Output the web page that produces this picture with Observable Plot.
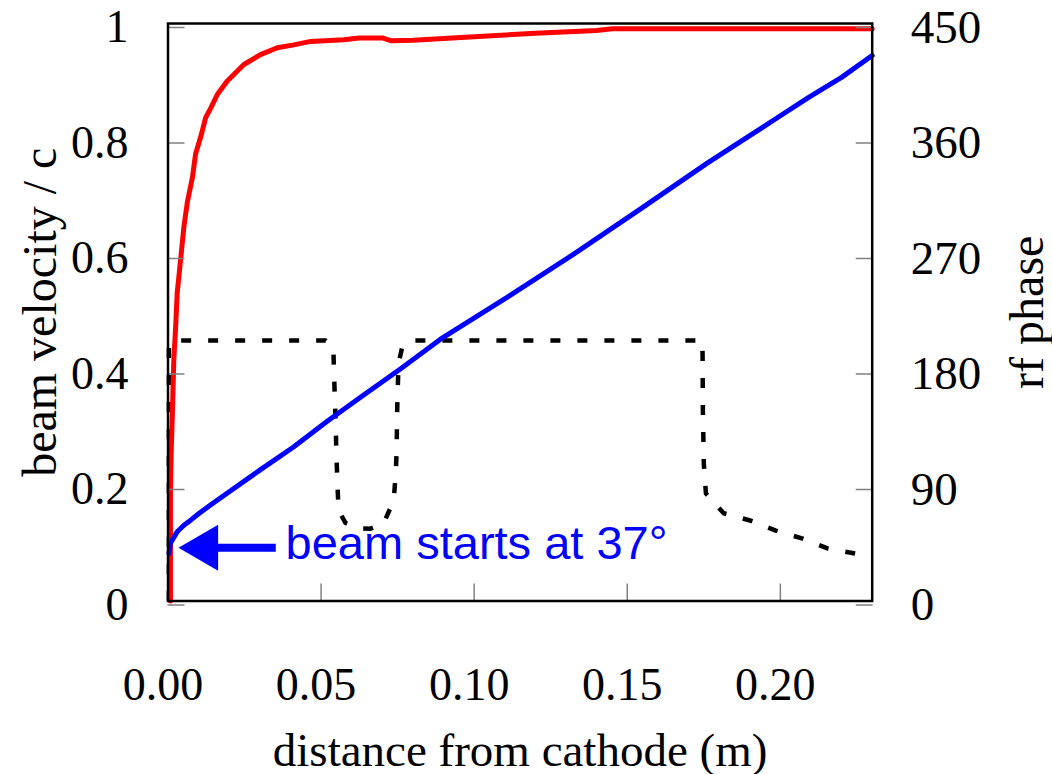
<!DOCTYPE html>
<html><head><meta charset="utf-8">
<script src="https://cdn.jsdelivr.net/npm/d3@7"></script>
<script src="https://cdn.jsdelivr.net/npm/@observablehq/plot@0.6"></script>
<style>body{margin:0;background:#fff}</style>
</head><body><div id="chart"></div>
<script>
// beam velocity / c (left axis)
const velX = [0.0008, 0.0008, 0.0010, 0.0014, 0.0019, 0.0025, 0.0030, 0.0041, 0.0052, 0.0063, 0.0080, 0.0090, 0.0106, 0.0123, 0.0140, 0.0161, 0.0193, 0.0248, 0.0302, 0.0357, 0.0411, 0.0466, 0.0574, 0.0623, 0.0700, 0.0730, 0.0800, 0.0900, 0.1000, 0.1200, 0.1400, 0.1450, 0.1700, 0.2000, 0.2300];
const velY = [0, 0.186, 0.25, 0.32, 0.417, 0.475, 0.533, 0.59, 0.648, 0.69, 0.734, 0.774, 0.802, 0.837, 0.854, 0.877, 0.9, 0.929, 0.946, 0.958, 0.963, 0.969, 0.972, 0.975, 0.975, 0.970, 0.971, 0.974, 0.977, 0.983, 0.988, 0.991, 0.991, 0.991, 0.991];
// rf phase in degrees (right axis)
const phaseX = [0.0003, 0.0008, 0.003, 0.0052, 0.0074, 0.010, 0.014, 0.0193, 0.030, 0.041, 0.052, 0.063, 0.076, 0.089, 0.111, 0.133, 0.154, 0.176, 0.189, 0.198, 0.209, 0.220, 0.230];
const phaseDeg = [37, 45, 54, 59, 63, 68, 75, 84, 102, 120, 140, 159, 181, 204, 237, 271, 305, 341, 361, 375, 392, 408, 425];
// dashed curve (left-axis units)
const fieldX = [0.0003, 0.0003, 0.0015, 0.0515, 0.0540, 0.0542, 0.0545, 0.0548, 0.0550, 0.0553, 0.0557, 0.0580, 0.0620, 0.0660, 0.0704, 0.0737, 0.0744, 0.0747, 0.0748, 0.0750, 0.0753, 0.0765, 0.0792, 0.1744, 0.1746, 0.1747, 0.1750, 0.1757, 0.1815, 0.1904, 0.1985, 0.2073, 0.2154, 0.2247, 0.2300];
const fieldY = [0, 0.44, 0.451, 0.451, 0.439, 0.40, 0.35, 0.30, 0.255, 0.209, 0.157, 0.135, 0.126, 0.125, 0.134, 0.174, 0.221, 0.266, 0.318, 0.361, 0.411, 0.44, 0.451, 0.451, 0.428, 0.33, 0.238, 0.186, 0.152, 0.139, 0.122, 0.108, 0.091, 0.082, 0.081];

const xTicks = [0, 0.05, 0.10, 0.15, 0.20];
const leftTicks = [0, 0.2, 0.4, 0.6, 0.8, 1];
const rightTicksDeg = [0, 90, 180, 270, 360, 450];
const phaseMax = 450;
const annotText = "beam starts at 37°";
const arrowTipX = 0.0034, arrowTailX = 0.0352, arrowPhase = 41.5, annotTextX = 0.0384;

const vel = velX.map((x, i) => ({x, y: velY[i]}));
const phase = phaseX.map((x, i) => ({x, y: phaseDeg[i] / phaseMax}));
const field = fieldX.map((x, i) => ({x, y: fieldY[i]}));
const ann = [{tip: arrowTipX, tail: arrowTailX, tx: annotTextX, y: arrowPhase / phaseMax, text: annotText}];

const serif = "'Liberation Serif', 'Times New Roman', serif";
const chart = Plot.plot({
  width: 1052, height: 774,
  marginLeft: 167.5, marginRight: 180.3, marginTop: 23, marginBottom: 173.5,
  x: {domain: [0, 0.23]},
  y: {domain: [0, 1]},
  style: {fontFamily: serif, fontSize: "46px", color: "#000", background: "#fff", overflow: "visible"},
  marks: [
    Plot.line(field, {x: "x", y: "y", stroke: "#000", strokeWidth: 4.5, strokeDasharray: "10 17", strokeLinecap: "butt"}),
    Plot.line(vel, {x: "x", y: "y", stroke: "#ff0000", strokeWidth: 5}),
    Plot.line(phase, {x: "x", y: "y", stroke: "#0000ff", strokeWidth: 5}),
    Plot.link(ann, {x1: "tail", x2: d => d.tip + 0.012, y1: "y", y2: "y", stroke: "#0000ff", strokeWidth: 8}),
    Plot.dot(ann, {x: "tip", y: "y", symbol: "triangle", r: 17, rotate: -90, fill: "#0000ff", stroke: null, dx: 26.5}),
    Plot.text(ann, {x: "tx", y: "y", text: "text", textAnchor: "start", lineAnchor: "middle", fontFamily: "'Liberation Sans', Arial, sans-serif", fontSize: 47, fill: "#0000ff", dy: -4}),
    Plot.axisX({ticks: xTicks, tickFormat: () => "", tickSize: -17, stroke: "#808080", strokeWidth: 1.5, label: null}),
    Plot.axisX({ticks: xTicks, tickFormat: d3.format(".2f"), tickSize: 0, tickPadding: 66, fill: "#000", fontSize: 46, dx: -5, label: null}),
    Plot.axisY({anchor: "left", ticks: leftTicks, tickFormat: d => String(d), tickSize: -17, tickPadding: 56.5, stroke: "#808080", strokeWidth: 1.5, fill: "#000", fontSize: 46, dy: 4, label: null}),
    Plot.axisY({anchor: "right", ticks: rightTicksDeg.map(d => d / phaseMax), tickFormat: d => String(Math.round(d * phaseMax)), tickSize: -17, tickPadding: 55.5, stroke: "#808080", strokeWidth: 1.5, fill: "#000", fontSize: 47, dy: 4, label: null}),
    Plot.frame({stroke: "#000", strokeWidth: 2.5}),
    Plot.text(["distance from cathode (m)"], {frameAnchor: "bottom", text: d => d, textAnchor: "middle", dy: 149.5, lineAnchor: "middle", fontSize: 47, fill: "#000"}),
    Plot.text(["beam velocity / c"], {frameAnchor: "left", text: d => d, textAnchor: "middle", dx: -127, rotate: -90, lineAnchor: "middle", fontSize: 48, fill: "#000"}),
    Plot.text(["rf phase"], {frameAnchor: "right", text: d => d, textAnchor: "middle", dx: 155, rotate: -90, lineAnchor: "middle", fontSize: 48, fill: "#000"})
  ]
});
document.getElementById("chart").appendChild(chart);
</script>
</body></html>
